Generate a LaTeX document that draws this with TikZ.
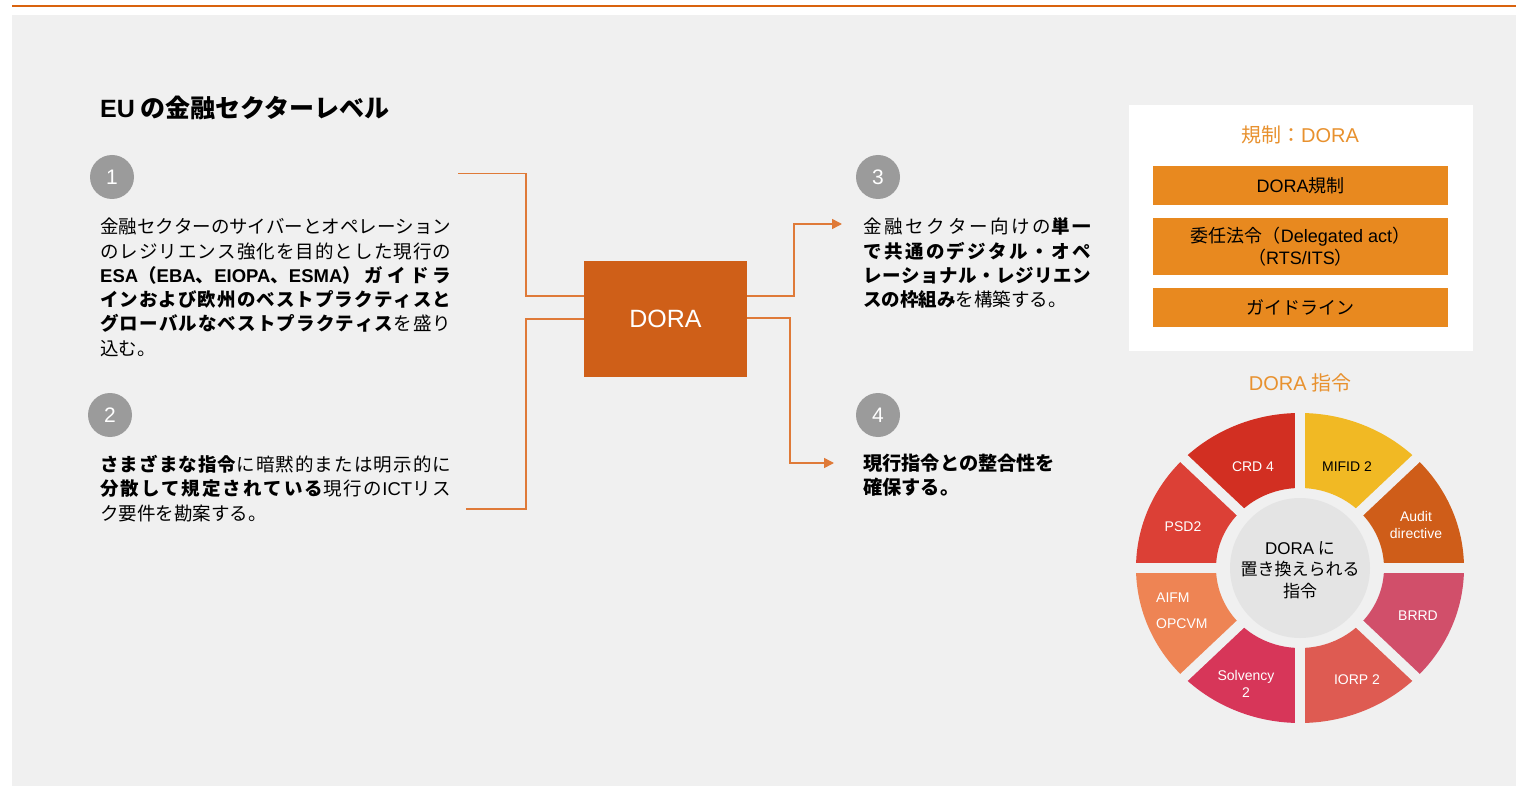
\documentclass[tikz,border=0pt]{standalone}
\usepackage{fontspec}
\setmainfont{Noto Sans CJK JP}
\newfontfamily\lat{Liberation Sans}
\usetikzlibrary{arrows.meta}
\definecolor{panelgray}{HTML}{F0F0F0}
\definecolor{topline}{HTML}{D9630E}
\definecolor{lineor}{HTML}{DF7A38}
\definecolor{dorabox}{HTML}{CF5F18}
\definecolor{numgray}{HTML}{9B9B9B}
\definecolor{barorange}{HTML}{E8891F}
\definecolor{titleor}{HTML}{E8912E}
\definecolor{innergray}{HTML}{E4E4E4}
\definecolor{cCRD}{HTML}{D22F22}
\definecolor{cMIFID}{HTML}{F1B924}
\definecolor{cAudit}{HTML}{CF5D19}
\definecolor{cBRRD}{HTML}{D14F6A}
\definecolor{cIORP}{HTML}{DE5B52}
\definecolor{cSolv}{HTML}{D73659}
\definecolor{cAIFM}{HTML}{EE8454}
\definecolor{cPSD}{HTML}{DC4036}
\newcount\mycc
\mycc="3000 \loop\ifnum\mycc<"3100 \XeTeXcharclass\mycc=7 \advance\mycc by 1 \repeat
\mycc="4E00 \loop\ifnum\mycc<"A000 \XeTeXcharclass\mycc=7 \advance\mycc by 1 \repeat
\mycc="FF00 \loop\ifnum\mycc<"FF70 \XeTeXcharclass\mycc=7 \advance\mycc by 1 \repeat
\XeTeXinterchartoks 7 7 = {\hskip 0pt plus 1fil minus 1pt}
\XeTeXinterchartoks 0 7 = {\hskip 0pt plus 1fil minus 1pt}
\XeTeXinterchartoks 7 0 = {\hskip 0pt plus 1fil minus 1pt}
\newcommand\jl[2]{\makebox[#1][s]{\XeTeXinterchartokenstate=1\relax#2}}
\newcommand\ringsector[3]{\fill[#1] (#2:84pt and 80pt) -- (#2:164pt and 155pt) arc[start angle=#2, end angle=#3, x radius=164pt, y radius=155pt] -- (#3:84pt and 80pt) arc[start angle=#3, end angle=#2, x radius=84pt, y radius=80pt] -- cycle;}
\tikzset{
  conn/.style={draw=lineor, line width=1.5pt},
  arr/.style={conn, -{Triangle[length=10pt,width=10pt]}},
  jt/.style={anchor=base west, inner sep=0pt, font=\fontsize{18.5}{22}\selectfont},
  numc/.style={circle, fill=numgray, minimum size=44pt, inner sep=0pt, text=white, font=\lat\fontsize{21}{21}\selectfont},
  bar/.style={fill=barorange, minimum width=295pt, inner sep=0pt, font=\fontsize{18}{21.5}\selectfont, align=center},
  ortitle/.style={text=titleor, inner sep=0pt, font=\fontsize{20}{22}\selectfont},
  seg/.style={text=white, inner sep=0pt, align=center, font=\lat\fontsize{14}{17}\selectfont}
}
\begin{document}
\begin{tikzpicture}[x=1pt,y=-1pt]
\useasboundingbox (0,0) rectangle (1523,786);
\fill[white] (0,0) rectangle (1523,786);
\fill[panelgray] (12,15) rectangle (1516,786);
\draw[topline, line width=2pt] (12,6) -- (1516,6);

% title
\node[anchor=base west, inner sep=0pt, font=\bfseries\fontsize{25}{27}\selectfont] (title) at (100,118) {{\lat EU} の金融セクターレベル};

% numbers
\node[numc] (n1) at (112,177) {1};
\node[numc] (n2) at (110,415) {2};
\node[numc] (n3) at (878,177) {3};
\node[numc] (n4) at (878,415) {4};

% block 1
\node[jt] (t1a) at (100,234) {\jl{351pt}{金融セクターのサイバーとオペレーション}};
\node[jt] (t1b) at (100,258.2) {\jl{351pt}{のレジリエンス強化を目的とした現行の}};
\node[jt] (t1c) at (100,282.4) {\jl{351pt}{\bfseries{\lat ESA}（{\lat EBA}、{\lat EIOPA}、{\lat ESMA}）ガイドラ}};
\node[jt] (t1d) at (100,306.6) {\jl{351pt}{\bfseries インおよび欧州のベストプラクティスと}};
\node[jt] (t1e) at (100,330.8) {\jl{351pt}{\textbf{グローバルなベストプラクティス}を盛り}};
\node[jt] (t1f) at (100,355) {込む。};

% block 2
\node[jt] (t2a) at (100,471) {\jl{351pt}{\textbf{さまざまな指令}に暗黙的または明示的に}};
\node[jt] (t2b) at (100,495.5) {\jl{351pt}{\textbf{分散して規定されている}現行の{\lat ICT}リス}};
\node[jt] (t2c) at (100,520) {ク要件を勘案する。};

% block 3
\node[jt] (t3a) at (863,234) {\jl{228pt}{金融セクター向けの\textbf{単一}}};
\node[jt] (t3b) at (863,258.2) {\jl{228pt}{\bfseries で共通のデジタル・オペ}};
\node[jt] (t3c) at (863,282.4) {\jl{228pt}{\bfseries レーショナル・レジリエン}};
\node[jt] (t3d) at (863,306.6) {\textbf{スの枠組み}を構築する。};

% block 4
\node[jt, font=\bfseries\fontsize{19.2}{22}\selectfont] (t4a) at (863,470) {現行指令との整合性を};
\node[jt, font=\bfseries\fontsize{19.2}{22}\selectfont] (t4b) at (863,494) {確保する。};

% DORA box
\node[fill=dorabox, minimum width=163pt, minimum height=116pt, inner sep=0pt, text=white, font=\lat\fontsize{25}{25}\selectfont] (dora) at (665.5,319) {DORA};

% connectors
\coordinate (L1) at (458,173.5);
\coordinate (L2) at (466,509);
\coordinate (A3) at (842,224);
\coordinate (A4) at (834,463);
\draw[conn] (L1) -| (526,296) -- ([yshift=23pt]dora.west);
\draw[conn] (L2) -| (526,319) -- (dora.west);
\draw[arr] ([yshift=23pt]dora.east) -| (794,224) -- (A3);
\draw[arr] ([yshift=1pt]dora.east) -| (790,463) -- (A4);

% right panel
\node[fill=white, minimum width=344pt, minimum height=246pt, inner sep=0pt] (panel) at (1301,228) {};
\node[ortitle] (rtitle) at (1300,135) {規制：{\lat DORA}};
\node[bar, minimum height=39pt] (b1) at (1300.5,185.5) {{\lat DORA}規制};
\node[bar, minimum height=57pt] (b2) at (1300.5,246.5) {委任法令（{\lat Delegated act}）\\（{\lat RTS/ITS}）};
\node[bar, minimum height=39pt] (b3) at (1300.5,307.5) {ガイドライン};
\node[ortitle] (dtitle) at (1300,383) {{\lat DORA} 指令};

% ring
\begin{scope}[shift={(1300,568)}]
\ringsector{cAudit}{0}{45}
\ringsector{cMIFID}{45}{90}
\ringsector{cCRD}{90}{135}
\ringsector{cPSD}{135}{180}
\ringsector{cAIFM}{180}{225}
\ringsector{cSolv}{225}{270}
\ringsector{cIORP}{270}{315}
\ringsector{cBRRD}{315}{360}
\foreach \a in {0,45,90,135} {
  \draw[panelgray, line width=10pt] (\a:175pt and 165pt) -- (\a+180:175pt and 165pt);
}
\fill[innergray] (0pt,0pt) circle[radius=70pt];
\end{scope}

\node[seg] (s1) at (1253,467) {CRD 4};
\node[seg, text=black] (s2) at (1347,467) {MIFID 2};
\node[seg] (s3) at (1416,524.5) {Audit\\directive};
\node[seg] (s4) at (1183,527) {PSD2};
\node[seg, anchor=west] (s5a) at (1156,598) {AIFM};
\node[seg, anchor=west] (s5b) at (1156,624) {OPCVM};
\node[seg] (s6) at (1246,683.5) {Solvency\\2};
\node[seg] (s7) at (1357,680) {IORP 2};
\node[seg] (s8) at (1418,616) {BRRD};
\node[inner sep=0pt, align=center, font=\fontsize{17}{21.5}\selectfont] (ctext) at (1300,570) {{\lat DORA} に\\置き換えられる\\指令};
\end{tikzpicture}
\end{document}
